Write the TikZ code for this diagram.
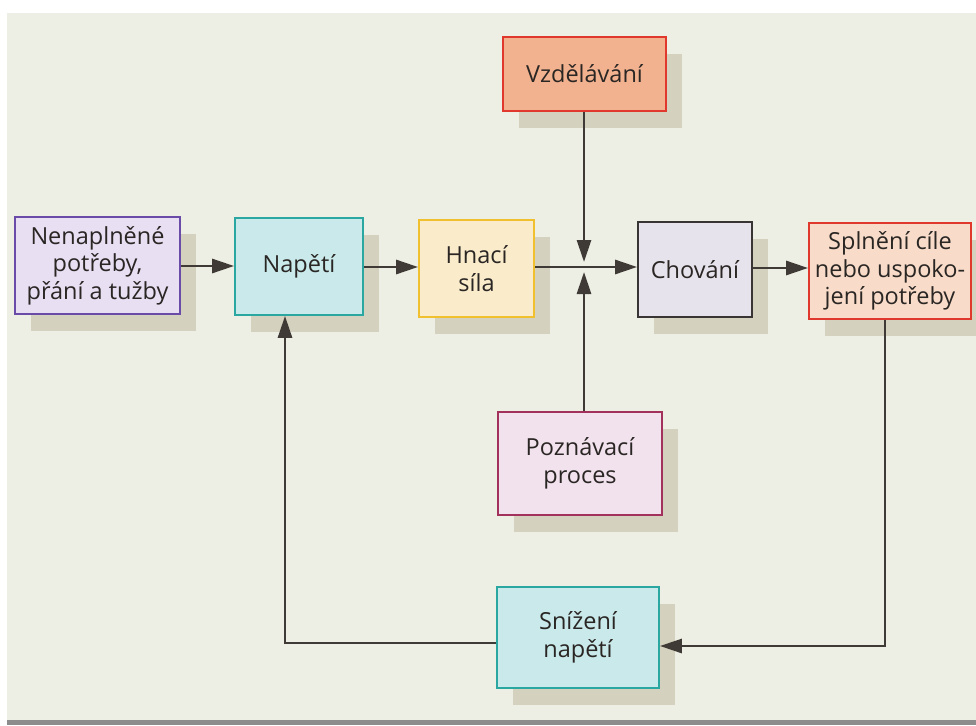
\documentclass[tikz,border=0pt]{standalone}
\usepackage{fontspec}
\setmainfont{Open Sans}
\usetikzlibrary{arrows.meta,calc}
\definecolor{bgpaper}{HTML}{EDEEE4}
\definecolor{shadowc}{HTML}{D5D1BF}
\definecolor{linec}{HTML}{3F3A35}
\definecolor{textc}{HTML}{2A2624}
\definecolor{purpleb}{HTML}{6A4CA8}\definecolor{purplef}{HTML}{E9DFF3}
\definecolor{tealb}{HTML}{2BA7A2}\definecolor{tealf}{HTML}{C9E9EA}
\definecolor{goldb}{HTML}{F0C02E}\definecolor{goldf}{HTML}{FAEBCB}
\definecolor{redb}{HTML}{E0382C}\definecolor{salmonf}{HTML}{F3B28F}
\definecolor{peachf}{HTML}{F8DCC9}
\definecolor{darkb}{HTML}{3A3535}\definecolor{greyf}{HTML}{E7E3EC}
\definecolor{maroonb}{HTML}{A2325C}\definecolor{pinkf}{HTML}{F2E2EE}
\tikzset{
  box/.style={draw, line width=1.8pt, align=center, inner sep=2pt,
    text=textc, font=\fontsize{23.5}{27.5}\selectfont},
  arr/.style={draw=linec, line width=2.8pt, -{Triangle[length=22pt,width=14pt]}},
}
\newcommand{\boxwithshadow}[6]{%
  \fill[shadowc] ($(#2)+(16-#3/2,17-#4/2)$) rectangle ($(#2)+(16+#3/2,17+#4/2)$);
  \node[box,#5,minimum width=#3pt,minimum height=#4pt] (#1) at (#2) {#6};
}
\begin{document}
\begin{tikzpicture}[x=1pt,y=-1pt]
\useasboundingbox (0,0) rectangle (976,725);
\fill[white] (0,0) rectangle (976,725);
\fill[bgpaper] (7,13) rectangle (976,720);
\fill[black!45] (7,720) rectangle (976,725);

\boxwithshadow{nen}{97.5,265.5}{165}{97}{draw=purpleb,fill=purplef}{Nenaplněné\\potřeby,\\přání a tužby}
\boxwithshadow{nap}{299,266.5}{128}{97}{draw=tealb,fill=tealf}{Napětí}
\boxwithshadow{hna}{476.5,268.5}{115}{97}{draw=goldb,fill=goldf}{Hnací\\síla}
\boxwithshadow{vzd}{584.5,74}{163}{74}{draw=redb,fill=salmonf}{Vzdělávání}
\boxwithshadow{cho}{695,269.5}{114}{95}{draw=darkb,fill=greyf}{Chování}
\boxwithshadow{spl}{890,271}{162}{96}{draw=redb,fill=peachf}{Splnění cíle\\nebo uspoko-\\jení potřeby}
\boxwithshadow{poz}{580,463.5}{164}{103}{draw=maroonb,fill=pinkf}{Poznávací\\proces}
\boxwithshadow{sni}{578,637.5}{162}{101}{draw=tealb,fill=tealf}{Snížení\\napětí}

\coordinate (jtop) at (584,262);
\coordinate (jbot) at (584,272);
\coordinate (rc) at (885,646);
\coordinate (lc) at (285,643);

\draw[arr] (nen.east |- 0,266) -- (nap.west |- 0,266);
\draw[arr] (nap.east |- 0,267) -- (hna.west |- 0,267);
\draw[arr] (hna.east |- 0,267) -- (cho.west |- 0,267);
\draw[arr] (vzd.south -| jtop) -- (jtop);
\draw[arr] (poz.north -| jbot) -- (jbot);
\draw[arr] (cho.east |- 0,268) -- (spl.west |- 0,268);
\draw[arr] (spl.south -| rc) -- (rc) -- (sni.east |- rc);
\draw[arr] (sni.west |- lc) -- (lc) -- (nap.south -| lc);
\end{tikzpicture}
\end{document}
